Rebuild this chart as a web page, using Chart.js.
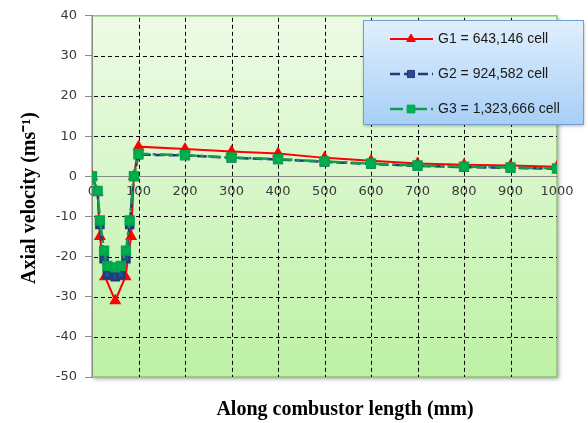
<!DOCTYPE html>
<html>
<head>
<meta charset="utf-8">
<script src="https://cdn.jsdelivr.net/npm/chart.js@4/dist/chart.umd.min.js"></script>
<style>
  html, body { margin: 0; padding: 0; background: #fff; }
</style>
</head>
<body>
<canvas id="velocityChart" width="588" height="423"></canvas>
<script>
// axial velocity along the combustor for the three mesh sizes
const seriesNames = ['G1 = 643,146 cell', 'G2 = 924,582 cell', 'G3 = 1,323,666 cell'];

const distG1 = [0, 12, 17, 28, 50, 72, 84, 90, 100, 200, 300, 400, 500, 600, 700, 800, 900, 1000];
const velG1 = [0, -4, -15, -25, -31, -25, -15, 0, 7.4, 6.8, 6.2, 5.7, 4.6, 3.9, 3.2, 2.9, 2.7, 2.4];

const distG2 = [0, 12, 17, 26, 33, 50, 62, 73, 81, 90, 100, 200, 300, 400, 500, 600, 700, 800, 900, 1000];
const velG2 = [0, -3.8, -12, -20.5, -24.5, -25, -24.5, -20.5, -12, 0, 5.4, 5.2, 4.6, 4.2, 3.6, 3.1, 2.6, 2.3, 2.1, 1.9];

const distG3 = [0, 12, 17, 26, 33, 50, 62, 73, 81, 90, 100, 200, 300, 400, 500, 600, 700, 800, 900, 1000];
const velG3 = [0, -3.6, -11, -18.5, -22.3, -22.7, -22.3, -18.5, -11, 0, 5.6, 5.3, 4.7, 4.3, 3.7, 3.2, 2.7, 2.4, 2.2, 2.0];

const xMin = 0, xMax = 1000, xStep = 100;
const yMin = -50, yMax = 40, yStep = 10;

function toPoints(xs, ys) {
  return xs.map((x, i) => ({ x: x, y: ys[i] }));
}

// green gradient plot area with a soft shadow
const plotBackground = {
  id: 'plotBackground',
  beforeDraw(chart) {
    const { ctx, chartArea: a } = chart;
    ctx.save();
    const g = ctx.createLinearGradient(0, a.top, 0, a.bottom);
    g.addColorStop(0, '#edfbe7');
    g.addColorStop(1, '#bdf1a4');
    ctx.shadowColor = 'rgba(0,0,0,0.35)';
    ctx.shadowBlur = 4;
    ctx.shadowOffsetX = 2;
    ctx.shadowOffsetY = 2;
    ctx.fillStyle = g;
    ctx.fillRect(a.left, a.top, a.width, a.height);
    ctx.restore();
    ctx.save();
    ctx.strokeStyle = '#8cc66e';
    ctx.lineWidth = 1.5;
    ctx.strokeRect(a.left, a.top, a.width, a.height);
    ctx.restore();
  }
};

// dashed black grid, placed at the scale ticks (dashes drawn as tiny rects)
const dashedGrid = {
  id: 'dashedGrid',
  beforeDatasetsDraw(chart) {
    const { ctx, chartArea: a } = chart;
    const sx = chart.scales.x, sy = chart.scales.y;
    ctx.save();
    ctx.fillStyle = '#000';
    sx.ticks.forEach(t => {
      if (t.value === xMin || t.value === xMax) return;
      const px = Math.round(sx.getPixelForValue(t.value));
      for (let py = a.top + 2; py < a.bottom; py += 7) {
        ctx.fillRect(px, py, 1, Math.min(4, a.bottom - py));
      }
    });
    sy.ticks.forEach(t => {
      if (t.value === yMin || t.value === yMax || t.value === 0) return;
      const py = Math.round(sy.getPixelForValue(t.value));
      for (let px = a.left + 2; px < a.right; px += 7) {
        ctx.fillRect(px, py, Math.min(4, a.right - px), 1);
      }
    });
    ctx.restore();
  }
};

// axis captions
const captions = {
  id: 'captions',
  afterDraw(chart) {
    const ctx = chart.ctx;
    ctx.save();
    ctx.fillStyle = '#000';
    ctx.font = 'bold 20px "Liberation Serif"';
    ctx.textAlign = 'center';
    ctx.textBaseline = 'middle';
    ctx.fillText('Along combustor length (mm)', 345, 410);
    ctx.translate(30, 198);
    ctx.rotate(-Math.PI / 2);
    ctx.fillText('Axial velocity (ms\u207B\u00B9)', 0, 0);
    ctx.restore();
  }
};

// boxed legend in the top right corner
const boxLegend = {
  id: 'boxLegend',
  afterDraw(chart) {
    const ctx = chart.ctx;
    const bx = 363, by = 20, bw = 220, bh = 104;
    ctx.save();
    const g = ctx.createLinearGradient(0, by, 0, by + bh);
    g.addColorStop(0, '#e1effd');
    g.addColorStop(1, '#a7cff6');
    ctx.shadowColor = 'rgba(0,0,0,0.3)';
    ctx.shadowBlur = 3;
    ctx.shadowOffsetX = 1;
    ctx.shadowOffsetY = 2;
    ctx.fillStyle = g;
    ctx.fillRect(bx, by, bw, bh);
    ctx.restore();
    ctx.save();
    ctx.strokeStyle = '#6f9fd6';
    ctx.lineWidth = 1;
    ctx.strokeRect(bx + 0.5, by + 0.5, bw, bh);

    chart.data.datasets.forEach((ds, i) => {
      const cy = by + 19 + i * 35;
      ctx.setLineDash(ds.borderDash || []);
      ctx.strokeStyle = ds.borderColor;
      ctx.lineWidth = ds.borderWidth;
      ctx.beginPath();
      ctx.moveTo(390, cy);
      ctx.lineTo(433, cy);
      ctx.stroke();
      ctx.setLineDash([]);
      ctx.fillStyle = ds.pointBackgroundColor;
      ctx.strokeStyle = ds.pointBorderColor;
      ctx.lineWidth = 1;
      Chart.helpers.drawPoint(ctx, { pointStyle: ds.pointStyle, radius: ds.pointRadius, rotation: 0, borderWidth: 1 }, 411, cy);
      ctx.fillStyle = '#1a1a1a';
      ctx.font = '14px "Liberation Sans"';
      ctx.textAlign = 'left';
      ctx.textBaseline = 'middle';
      ctx.fillText(ds.label, 438, cy);
    });
    ctx.restore();
  }
};

new Chart('velocityChart', {
  type: 'line',
  data: {
    datasets: [{
      label: seriesNames[0],
      data: toPoints(distG1, velG1),
      borderColor: '#ff0000',
      borderWidth: 2,
      pointStyle: 'triangle',
      pointRadius: 5,
      pointBackgroundColor: '#ff0000',
      pointBorderColor: '#ff0000',
      order: 3
    }, {
      label: seriesNames[1],
      data: toPoints(distG2, velG2),
      borderColor: '#1f3c78',
      borderWidth: 2.5,
      borderDash: [10, 4],
      pointStyle: 'rect',
      pointRadius: 5,
      pointBackgroundColor: '#2a4a8c',
      pointBorderColor: '#1f3c78',
      order: 2
    }, {
      label: seriesNames[2],
      data: toPoints(distG3, velG3),
      borderColor: '#149a4c',
      borderWidth: 2.5,
      borderDash: [13, 4, 3, 4],
      pointStyle: 'rect',
      pointRadius: 5.5,
      pointBackgroundColor: '#00b050',
      pointBorderColor: '#00a84a',
      order: 1
    }]
  },
  options: {
    responsive: false,
    animation: false,
    layout: { padding: { left: 0, right: 31, top: 15, bottom: 46 } },
    plugins: {
      legend: { display: false },
      tooltip: { enabled: false }
    },
    elements: { line: { tension: 0 } },
    scales: {
      x: {
        type: 'linear',
        position: { y: 0 },
        min: xMin,
        max: xMax,
        border: { display: true, color: '#8a8a8a', width: 1 },
        grid: { drawOnChartArea: false, drawTicks: false },
        ticks: {
          stepSize: xStep,
          padding: 7,
          maxRotation: 0,
          color: '#3a3a3a',
          font: { family: '"DejaVu Sans"', size: 13 },
          callback: v => String(v)
        }
      },
      y: {
        min: yMin,
        max: yMax,
        afterFit(scale) { scale.width = 92; },
        border: { display: true, color: '#8a8a8a', width: 1 },
        grid: {
          drawOnChartArea: false,
          tickLength: 7,
          tickColor: '#8a8a8a'
        },
        ticks: {
          stepSize: yStep,
          padding: 8,
          color: '#3a3a3a',
          font: { family: '"DejaVu Sans"', size: 13 }
        }
      }
    }
  },
  plugins: [plotBackground, dashedGrid, captions, boxLegend]
});
</script>
</body>
</html>
